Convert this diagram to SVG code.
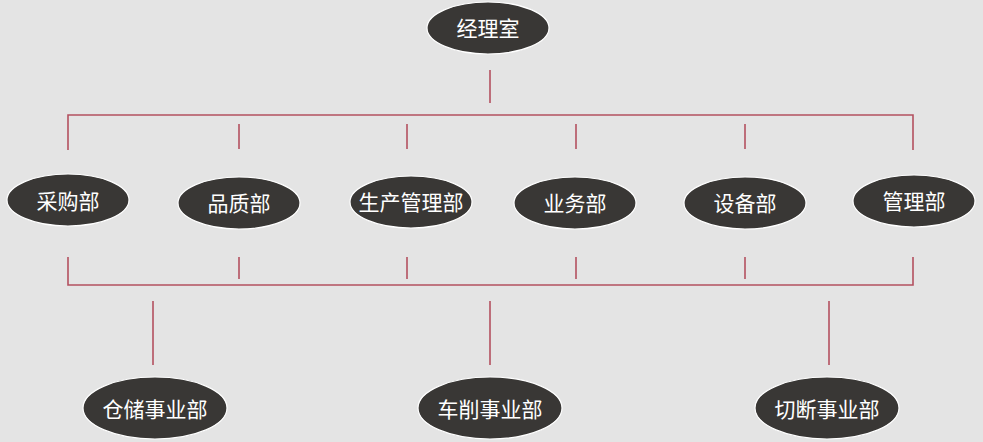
<svg xmlns="http://www.w3.org/2000/svg" width="983" height="442" viewBox="0 0 983 442">
<style>
.bg{fill:#e4e4e4}
.n ellipse{fill:#393735;stroke:#ffffff;stroke-width:1.2}
.n text{fill:#ffffff;font-family:"Noto Sans CJK SC","Noto Sans",sans-serif;font-size:21px;text-anchor:middle;dominant-baseline:central}
.c{stroke:#b3505f;stroke-width:1.6;fill:none}
</style>
<rect class="bg" x="0" y="0" width="983" height="442"/>
<g id="connectors" class="c">
<line x1="490" y1="70" x2="490" y2="103"/>
<polyline points="68,150 68,115 913,115 913,150"/>
<line x1="239" y1="124" x2="239" y2="149"/>
<line x1="407" y1="124" x2="407" y2="149"/>
<line x1="576" y1="124" x2="576" y2="149"/>
<line x1="745" y1="124" x2="745" y2="149"/>
<polyline points="68,257 68,285 913,285 913,257"/>
<line x1="239" y1="257" x2="239" y2="279"/>
<line x1="407" y1="257" x2="407" y2="279"/>
<line x1="576" y1="257" x2="576" y2="279"/>
<line x1="745" y1="257" x2="745" y2="279"/>
<line x1="153" y1="301" x2="153" y2="365"/>
<line x1="490" y1="301" x2="490" y2="365"/>
<line x1="829" y1="301" x2="829" y2="365"/>
</g>
<g id="n_jingli" class="n"><ellipse cx="488" cy="28" rx="61" ry="26"/><text x="488" y="27">经理室</text></g>
<g id="n_caigou" class="n"><ellipse cx="68" cy="200" rx="61" ry="26"/><text x="68" y="200">采购部</text></g>
<g id="n_pinzhi" class="n"><ellipse cx="239" cy="203" rx="61" ry="26"/><text x="239" y="202">品质部</text></g>
<g id="n_shengchan" class="n"><ellipse cx="411" cy="202" rx="61" ry="26"/><text x="411" y="201">生产管理部</text></g>
<g id="n_yewu" class="n"><ellipse cx="575" cy="203" rx="61" ry="26"/><text x="575" y="202">业务部</text></g>
<g id="n_shebei" class="n"><ellipse cx="745" cy="203" rx="61" ry="26"/><text x="745" y="202">设备部</text></g>
<g id="n_guanli" class="n"><ellipse cx="914" cy="201" rx="61" ry="26"/><text x="914" y="200">管理部</text></g>
<g id="n_cangchu" class="n"><ellipse cx="155" cy="408" rx="72" ry="31"/><text x="155" y="408">仓储事业部</text></g>
<g id="n_chexiao" class="n"><ellipse cx="490" cy="408" rx="72" ry="31"/><text x="490" y="408">车削事业部</text></g>
<g id="n_qieduan" class="n"><ellipse cx="827" cy="408" rx="72" ry="31"/><text x="827" y="408">切断事业部</text></g>
</svg>
